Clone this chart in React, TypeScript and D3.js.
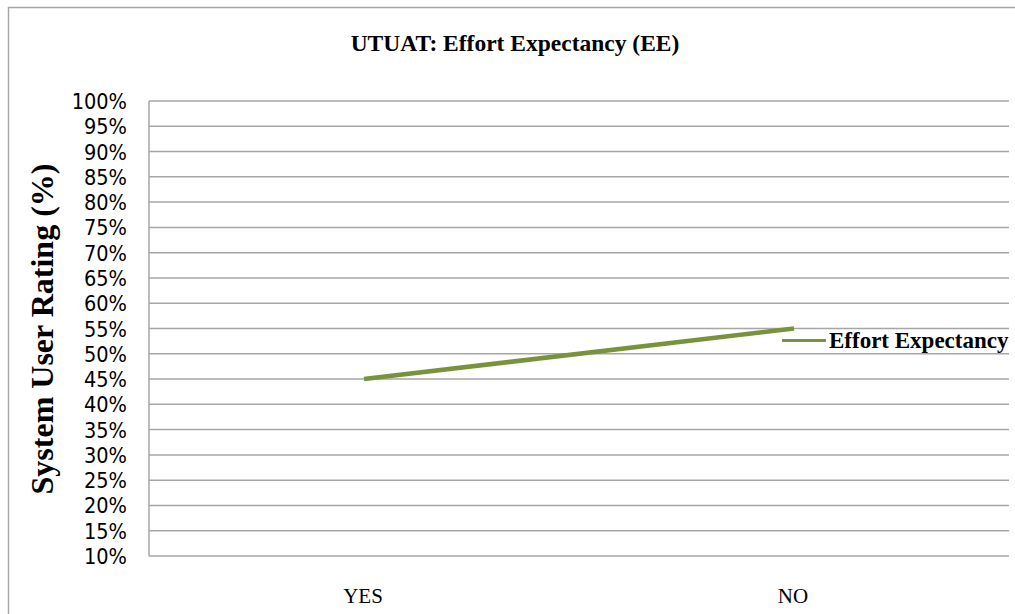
import React from "react";
import * as d3 from "d3";

const categories = ["YES", "NO"];
const seriesName = "Effort Expectancy";
const seriesValues = [45, 55];
const yTicks = [10, 15, 20, 25, 30, 35, 40, 45, 50, 55, 60, 65, 70, 75, 80, 85, 90, 95, 100];
const title = "UTUAT: Effort Expectancy (EE)";
const yTitle = "System User Rating (%)";

const W = 1015;
const H = 614;
const plot = { left: 149, right: 1009, top: 101, bottom: 556 };
const green = "#77933C";
const gridColor = "#a6a6a6";
const serif = "'Liberation Serif', 'DejaVu Serif', serif";
const narrow = "'Liberation Sans Narrow', 'DejaVu Sans Condensed', 'Liberation Sans', sans-serif";

export default function App() {
  const x = d3.scaleBand<string>().domain(categories).range([plot.left, plot.right]);
  const y = d3.scaleLinear().domain([10, 100]).range([plot.bottom, plot.top]);
  const line = d3
    .line<number>()
    .x((_, i) => (x(categories[i]) as number) + x.bandwidth() / 2)
    .y((d) => y(d));

  return (
    <svg
      width={W}
      height={H}
      style={{ position: "absolute", left: 0, top: 0, background: "#fff" }}
    >
      <rect x={0} y={0} width={W} height={H} fill="#fff" />
      {/* outer chart border */}
      <path d={`M8.5,${H} V7.5 H${W}`} fill="none" stroke="#a6a6a6" strokeWidth={1.5} />

      <text x={515} y={51} textAnchor="middle" fontFamily={serif} fontWeight="bold" fontSize={23.5} fill="#000">
        {title}
      </text>

      {/* gridlines */}
      {yTicks.map((t) => (
        <line key={t} x1={plot.left} x2={plot.right} y1={y(t)} y2={y(t)} stroke={gridColor} strokeWidth={1.5} />
      ))}
      <line x1={plot.left} x2={plot.left} y1={plot.top} y2={plot.bottom} stroke={gridColor} strokeWidth={1.5} />

      {/* y tick labels */}
      {yTicks.map((t) => (
        <text key={t} x={127} y={y(t) + 8} textAnchor="end" fontFamily={narrow} fontSize={21.5} fill="#000">
          {t}%
        </text>
      ))}

      {/* x labels */}
      {categories.map((c) => (
        <text
          key={c}
          x={(x(c) as number) + x.bandwidth() / 2 - 1}
          y={603}
          textAnchor="middle"
          fontFamily={serif}
          fontSize={21}
          fill="#000"
        >
          {c}
        </text>
      ))}

      {/* y title */}
      <text
        transform={`translate(53,${329}) rotate(-90)`}
        textAnchor="middle"
        fontFamily={serif}
        fontWeight="bold"
        fontSize={32}
        fill="#000"
      >
        {yTitle}
      </text>

      {/* series */}
      <path d={line(seriesValues) || ""} fill="none" stroke={green} strokeWidth={4.5} strokeLinecap="butt" />

      {/* legend */}
      <line x1={782} x2={826} y1={340.5} y2={340.5} stroke={green} strokeWidth={3} />
      <text x={829} y={348} fontFamily={serif} fontWeight="bold" fontSize={23} fill="#000">
        {seriesName}
      </text>
    </svg>
  );
}
